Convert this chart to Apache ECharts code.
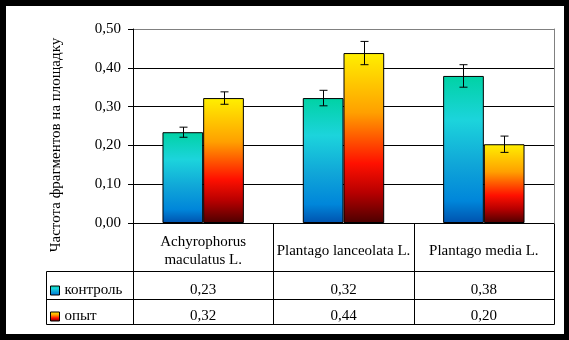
<!DOCTYPE html>
<html><head><meta charset="utf-8">
<script src="https://cdn.jsdelivr.net/npm/echarts@6/dist/echarts.min.js"></script>
<style>
html,body{margin:0;padding:0;background:#000;}
#bg{position:absolute;left:6px;top:6px;width:558px;height:328px;background:#fff;}
#c{position:absolute;left:0;top:0;width:569px;height:340px;}
</style></head>
<body><div id="bg"></div><div id="c"></div>
<script>
const categories = ['Achyrophorus maculatus L.', 'Plantago lanceolata L.', 'Plantago media L.'];
const seriesNames = ['контроль', 'опыт'];
const kontrol = [0.234, 0.322, 0.379];
const opyt = [0.322, 0.438, 0.203];
const kontrolErr = [0.013, 0.020, 0.029];
const opytErr = [0.016, 0.030, 0.021];
const yTitle = 'Частота фрагментов на площадку';

const FONT = '"Liberation Serif", "Times New Roman", serif';
const FS = 15;
const fmt = v => v.toFixed(2).replace('.', ',');

const gradK = new echarts.graphic.LinearGradient(0, 0, 0, 1, [
  {offset: 0, color: '#00D2A4'},
  {offset: 0.3, color: '#1CD4DC'},
  {offset: 0.6, color: '#10A6D8'},
  {offset: 0.85, color: '#0086DA'},
  {offset: 1, color: '#0052AE'}
]);
const gradO = new echarts.graphic.LinearGradient(0, 0, 0, 1, [
  {offset: 0, color: '#FFF000'},
  {offset: 0.35, color: '#FFA000'},
  {offset: 0.65, color: '#FF1000'},
  {offset: 0.82, color: '#B80000'},
  {offset: 1, color: '#4C0000'}
]);

// layout
const GL = 133, GR = 554, GT = 29, GB = 223;
const rowLines = [271.5, 299.5, 324.5];
const legendLeft = 46.5;

function errSeries(vals, errs, side) {
  return {
    type: 'custom', name: 'err' + side, xAxisIndex: 0, yAxisIndex: 0, z: 5,
    encode: {x: 0, y: 1},
    data: vals.map((v, i) => [i, v, errs[i]]),
    renderItem: (params, api) => {
      const i = api.value(0), v = api.value(1), e = api.value(2);
      const band = api.size([1, 0])[0];
      const top = api.coord([i, v + e]);
      const bot = api.coord([i, v - e]);
      const x = Math.round(top[0] + side * band * 0.145) + 0.5;
      const c = 4;
      const st = {stroke: '#000', lineWidth: 1};
      return {type: 'group', children: [
        {type: 'line', shape: {x1: x, y1: top[1], x2: x, y2: bot[1]}, style: st},
        {type: 'line', shape: {x1: x - c, y1: top[1], x2: x + c, y2: top[1]}, style: st},
        {type: 'line', shape: {x1: x - c, y1: bot[1], x2: x + c, y2: bot[1]}, style: st}
      ]};
    }
  };
}

const chart = echarts.init(document.getElementById('c'));
const legendCommon = {
  left: 50, itemWidth: 9, itemHeight: 9, icon: 'rect', padding: 0, selectedMode: false,
  itemStyle: {borderColor: '#000', borderWidth: 1},
  textStyle: {fontFamily: FONT, fontSize: FS, color: '#000', lineHeight: 15}
};
const bandW = (GR - GL) / categories.length;
const colLines = [0, 1, 2, 3].map(k => Math.round(GL + k * bandW) + 0.5);
chart.setOption({
  animation: false,
  backgroundColor: 'transparent',
  grid: {left: GL, right: 569 - GR, top: GT, bottom: 340 - GB},
  legend: [
    Object.assign({data: [seriesNames[0]], top: 283}, legendCommon),
    Object.assign({data: [seriesNames[1]], top: 309}, legendCommon)
  ],
  xAxis: [
    {
      type: 'category', data: categories, position: 'bottom',
      axisLine: {lineStyle: {color: '#000', width: 1}},
      axisTick: {show: false},
      axisLabel: {
        interval: 0, margin: 28, verticalAlign: 'middle', fontFamily: FONT, fontSize: FS,
        color: '#000', lineHeight: 18,
        formatter: v => v.length > 22 ? v.replace(' ', '\n') : v
      },
      splitLine: {show: false}
    },
    {
      type: 'category', data: categories, position: 'bottom',
      axisLine: {show: false}, axisTick: {show: false}, splitLine: {show: false},
      axisLabel: {interval: 0, margin: 67, verticalAlign: 'middle', fontFamily: FONT, fontSize: FS, color: '#000',
        formatter: (v, i) => fmt(kontrol[i])}
    },
    {
      type: 'category', data: categories, position: 'bottom',
      axisLine: {show: false}, axisTick: {show: false}, splitLine: {show: false},
      axisLabel: {interval: 0, margin: 93, verticalAlign: 'middle', fontFamily: FONT, fontSize: FS, color: '#000',
        formatter: (v, i) => fmt(opyt[i])}
    }
  ],
  yAxis: [
    {
      type: 'value', min: 0, max: 0.5, interval: 0.1,
      axisLine: {show: true, lineStyle: {color: '#000'}},
      axisTick: {show: true, length: 5, lineStyle: {color: '#000'}},
      axisLabel: {margin: 12, fontFamily: FONT, fontSize: FS, color: '#000', formatter: v => fmt(v)},
      splitLine: {show: true, lineStyle: {color: ['#000', '#000', '#000', '#000', '#000', '#808080'], width: 1}}
    },
    {
      type: 'value', min: 0, max: 0.5, interval: 0.1, position: 'right',
      axisLine: {show: true, lineStyle: {color: '#808080'}},
      axisTick: {show: false}, axisLabel: {show: false}, splitLine: {show: false}
    }
  ],
  series: [
    {type: 'bar', name: seriesNames[0], data: kontrol, barWidth: '29%', barGap: '0%',
      itemStyle: {color: gradK, borderColor: '#000', borderWidth: 1}},
    {type: 'bar', name: seriesNames[1], data: opyt, barWidth: '29%', barGap: '0%',
      itemStyle: {color: gradO, borderColor: '#000', borderWidth: 1}},
    errSeries(kontrol, kontrolErr, -1),
    errSeries(opyt, opytErr, 1)
  ],
  graphic: [
    {type: 'text', x: 56, y: 145, rotation: Math.PI / 2,
      style: {text: yTitle, font: FS + 'px ' + FONT, fill: '#000', align: 'center', verticalAlign: 'middle'}},
    ...rowLines.map(y => ({type: 'line', shape: {x1: legendLeft, y1: y, x2: GR + 0.5, y2: y}, style: {stroke: '#000', lineWidth: 1}})),
    {type: 'line', shape: {x1: legendLeft, y1: rowLines[0], x2: legendLeft, y2: rowLines[2]}, style: {stroke: '#000', lineWidth: 1}},
    ...colLines.map(x => ({type: 'line', shape: {x1: x, y1: GB + 0.5, x2: x, y2: rowLines[2]}, style: {stroke: '#000', lineWidth: 1}}))
  ]
});
</script></body></html>
